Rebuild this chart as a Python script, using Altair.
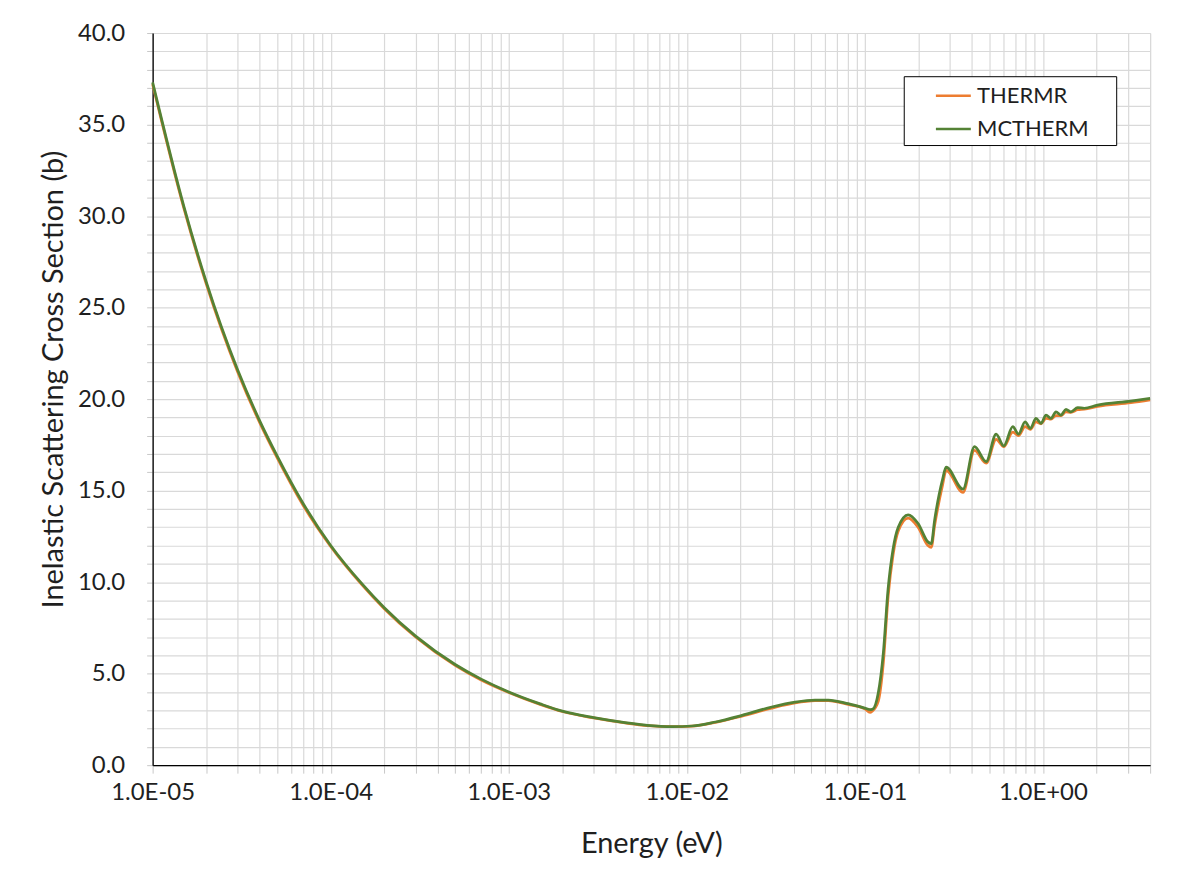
import altair as alt
import pandas as pd

energy = [1e-5, 1.5e-5, 2e-5, 3e-5, 4e-5, 5e-5, 7e-5, 1e-4, 1.5e-4, 2e-4, 3e-4, 5e-4, 7e-4,
          1e-3, 1.5e-3, 2e-3, 3e-3, 4.5e-3, 6e-3, 8.3e-3, 1.07e-2, 1.45e-2, 2.04e-2, 3.0e-2,
          4.06e-2, 5.25e-2, 6.23e-2, 8.06e-2, 0.100, 0.107, 0.110, 0.119, 0.127, 0.135, 0.144,
          0.154, 0.175, 0.199, 0.226, 0.236, 0.2466, 0.273, 0.286, 0.3556, 0.413, 0.480, 0.546,
          0.6026, 0.677, 0.729, 0.794, 0.851, 0.914, 0.976, 1.041, 1.110, 1.184, 1.263, 1.347,
          1.437, 1.567, 1.708, 2.026, 3.12, 4.0]

mctherm = [37.3, 30.5, 26.4, 21.6, 18.8, 16.9, 14.3, 12.0, 9.9, 8.6, 7.05, 5.5, 4.7, 4.0, 3.35,
           2.95, 2.6, 2.33, 2.18, 2.11, 2.14, 2.36, 2.72, 3.18, 3.45, 3.56, 3.56, 3.36, 3.12, 3.04,
           3.05, 3.96, 6.14, 9.6, 11.8, 13.0, 13.68, 13.2, 12.2, 12.1, 13.4, 15.6, 16.28, 15.08,
           17.4, 16.58, 18.09, 17.44, 18.49, 18.09, 18.76, 18.4, 18.95, 18.68, 19.13, 18.95, 19.3,
           19.13, 19.44, 19.3, 19.53, 19.5, 19.67, 19.89, 20.04]

thermr = [37.2, 30.4, 26.3, 21.5, 18.7, 16.8, 14.2, 11.95, 9.85, 8.55, 7.0, 5.45, 4.65, 3.97, 3.32,
          2.93, 2.58, 2.31, 2.16, 2.1, 2.13, 2.34, 2.68, 3.12, 3.4, 3.52, 3.53, 3.32, 3.08, 2.88,
          2.95, 3.5, 5.6, 9.2, 11.5, 12.8, 13.5, 13.0, 12.0, 11.9, 13.1, 15.3, 16.1, 14.9, 17.2,
          16.5, 17.8, 17.4, 18.2, 18.0, 18.5, 18.35, 18.75, 18.65, 18.95, 18.9, 19.1, 19.1, 19.3,
          19.28, 19.42, 19.45, 19.6, 19.8, 19.95]

series_names = ["THERMR", "MCTHERM"]
series_colors = ["#ED7D31", "#548235"]

decades = [1e-5, 1e-4, 1e-3, 1e-2, 1e-1, 1e0]
multipliers = [1, 2, 3, 4, 5, 6, 7, 8, 9]
x_ticks = [round(d * m, 12) for d in decades for m in multipliers if d * m <= 4.0001]
y_ticks = list(range(0, 41))

df_t = pd.DataFrame({"E": energy, "sigma": thermr, "series": "THERMR"})
df_m = pd.DataFrame({"E": energy, "sigma": mctherm, "series": "MCTHERM"})

FONT = "Lato"
TXT = "#1f1f1f"
TITLE_SIZE = 29

exp_expr = "round(log(datum.value)/LN10)"
x_label_expr = (
    f"abs(log(datum.value)/LN10 - {exp_expr}) < 1e-6 ? "
    f"('1.0E' + ({exp_expr} < 0 ? '-' : '+') + '0' + abs({exp_expr})) : ''"
)

x_enc = alt.X(
    "E:Q",
    scale=alt.Scale(type="log", domain=[1e-5, 4], nice=False),
    axis=alt.Axis(
        values=x_ticks,
        labelExpr=x_label_expr,
        labelFlush=False,
        labelOverlap=False,
        labelBound=False,
        title="Energy (eV)",
        titleY=79,
        titleBaseline="middle",
        titleFontSize=TITLE_SIZE,
        titleFontWeight="normal",
        titleFont=FONT,
        titleColor=TXT,
        labelFont=FONT,
        labelFontSize=24,
        labelColor=TXT,
        labelPadding=7,
        tickSize=8,
        tickColor="#c8c8c8",
        gridColor="#d9d9d9",
        gridWidth=1.2,
        domainColor="#000000",
        domainWidth=1.3,
    ),
)

y_enc = alt.Y(
    "sigma:Q",
    scale=alt.Scale(domain=[0, 40], nice=False),
    axis=alt.Axis(
        values=y_ticks,
        labelExpr="datum.value % 5 == 0 ? format(datum.value, '.1f') : ''",
        labelOverlap=False,
        labelFlush=False,
        title="Inelastic Scattering Cross Section (b)",
        titleAngle=-90,
        titleX=-99,
        titleY=347,
        titleAlign="center",
        titleBaseline="middle",
        titleFontSize=TITLE_SIZE,
        titleFontWeight="normal",
        titleFont=FONT,
        titleColor=TXT,
        labelFont=FONT,
        labelFontSize=24,
        labelColor=TXT,
        labelPadding=22,
        tickSize=6,
        tickColor="#c8c8c8",
        gridColor="#d9d9d9",
        gridWidth=1.2,
        domainColor="#000000",
        domainWidth=1.3,
    ),
)

color_enc = alt.Color(
    "series:N",
    scale=alt.Scale(domain=series_names, range=series_colors),
    legend=alt.Legend(
        title=" ",
        titleOrient="right",
        titlePadding=23,
        titleFontSize=12,
        orient="none",
        legendX=753,
        legendY=43.3,
        padding=4.5,
        rowPadding=7.5,
        symbolType="M-1.273,0H1.273",
        symbolSize=756,
        symbolStrokeWidth=2.5,
        symbolOffset=30.25,
        labelOffset=8.75,
        labelFont=FONT,
        labelFontSize=22,
        labelColor=TXT,
        fillColor="#ffffff",
        strokeColor="#000000",
        cornerRadius=0,
    ),
)

line_t = alt.Chart(df_t).mark_line(strokeWidth=2.75, interpolate="monotone").encode(
    x=x_enc, y=y_enc, color=color_enc
)
line_m = alt.Chart(df_m).mark_line(strokeWidth=2.75, interpolate="monotone").encode(
    x=x_enc, y=y_enc, color=color_enc
)

chart = (
    alt.layer(line_t, line_m)
    .properties(
        width=1000,
        height=734,
        autosize=alt.AutoSizeParams(type="none"),
        padding={"left": 145, "top": 24, "right": 45, "bottom": 100},
    )
    .configure_view(stroke="#000000", strokeWidth=1.3)
    .configure(background="#ffffff")
)

chart.save("out.html", embed_options={"renderer": "svg", "actions": False})
